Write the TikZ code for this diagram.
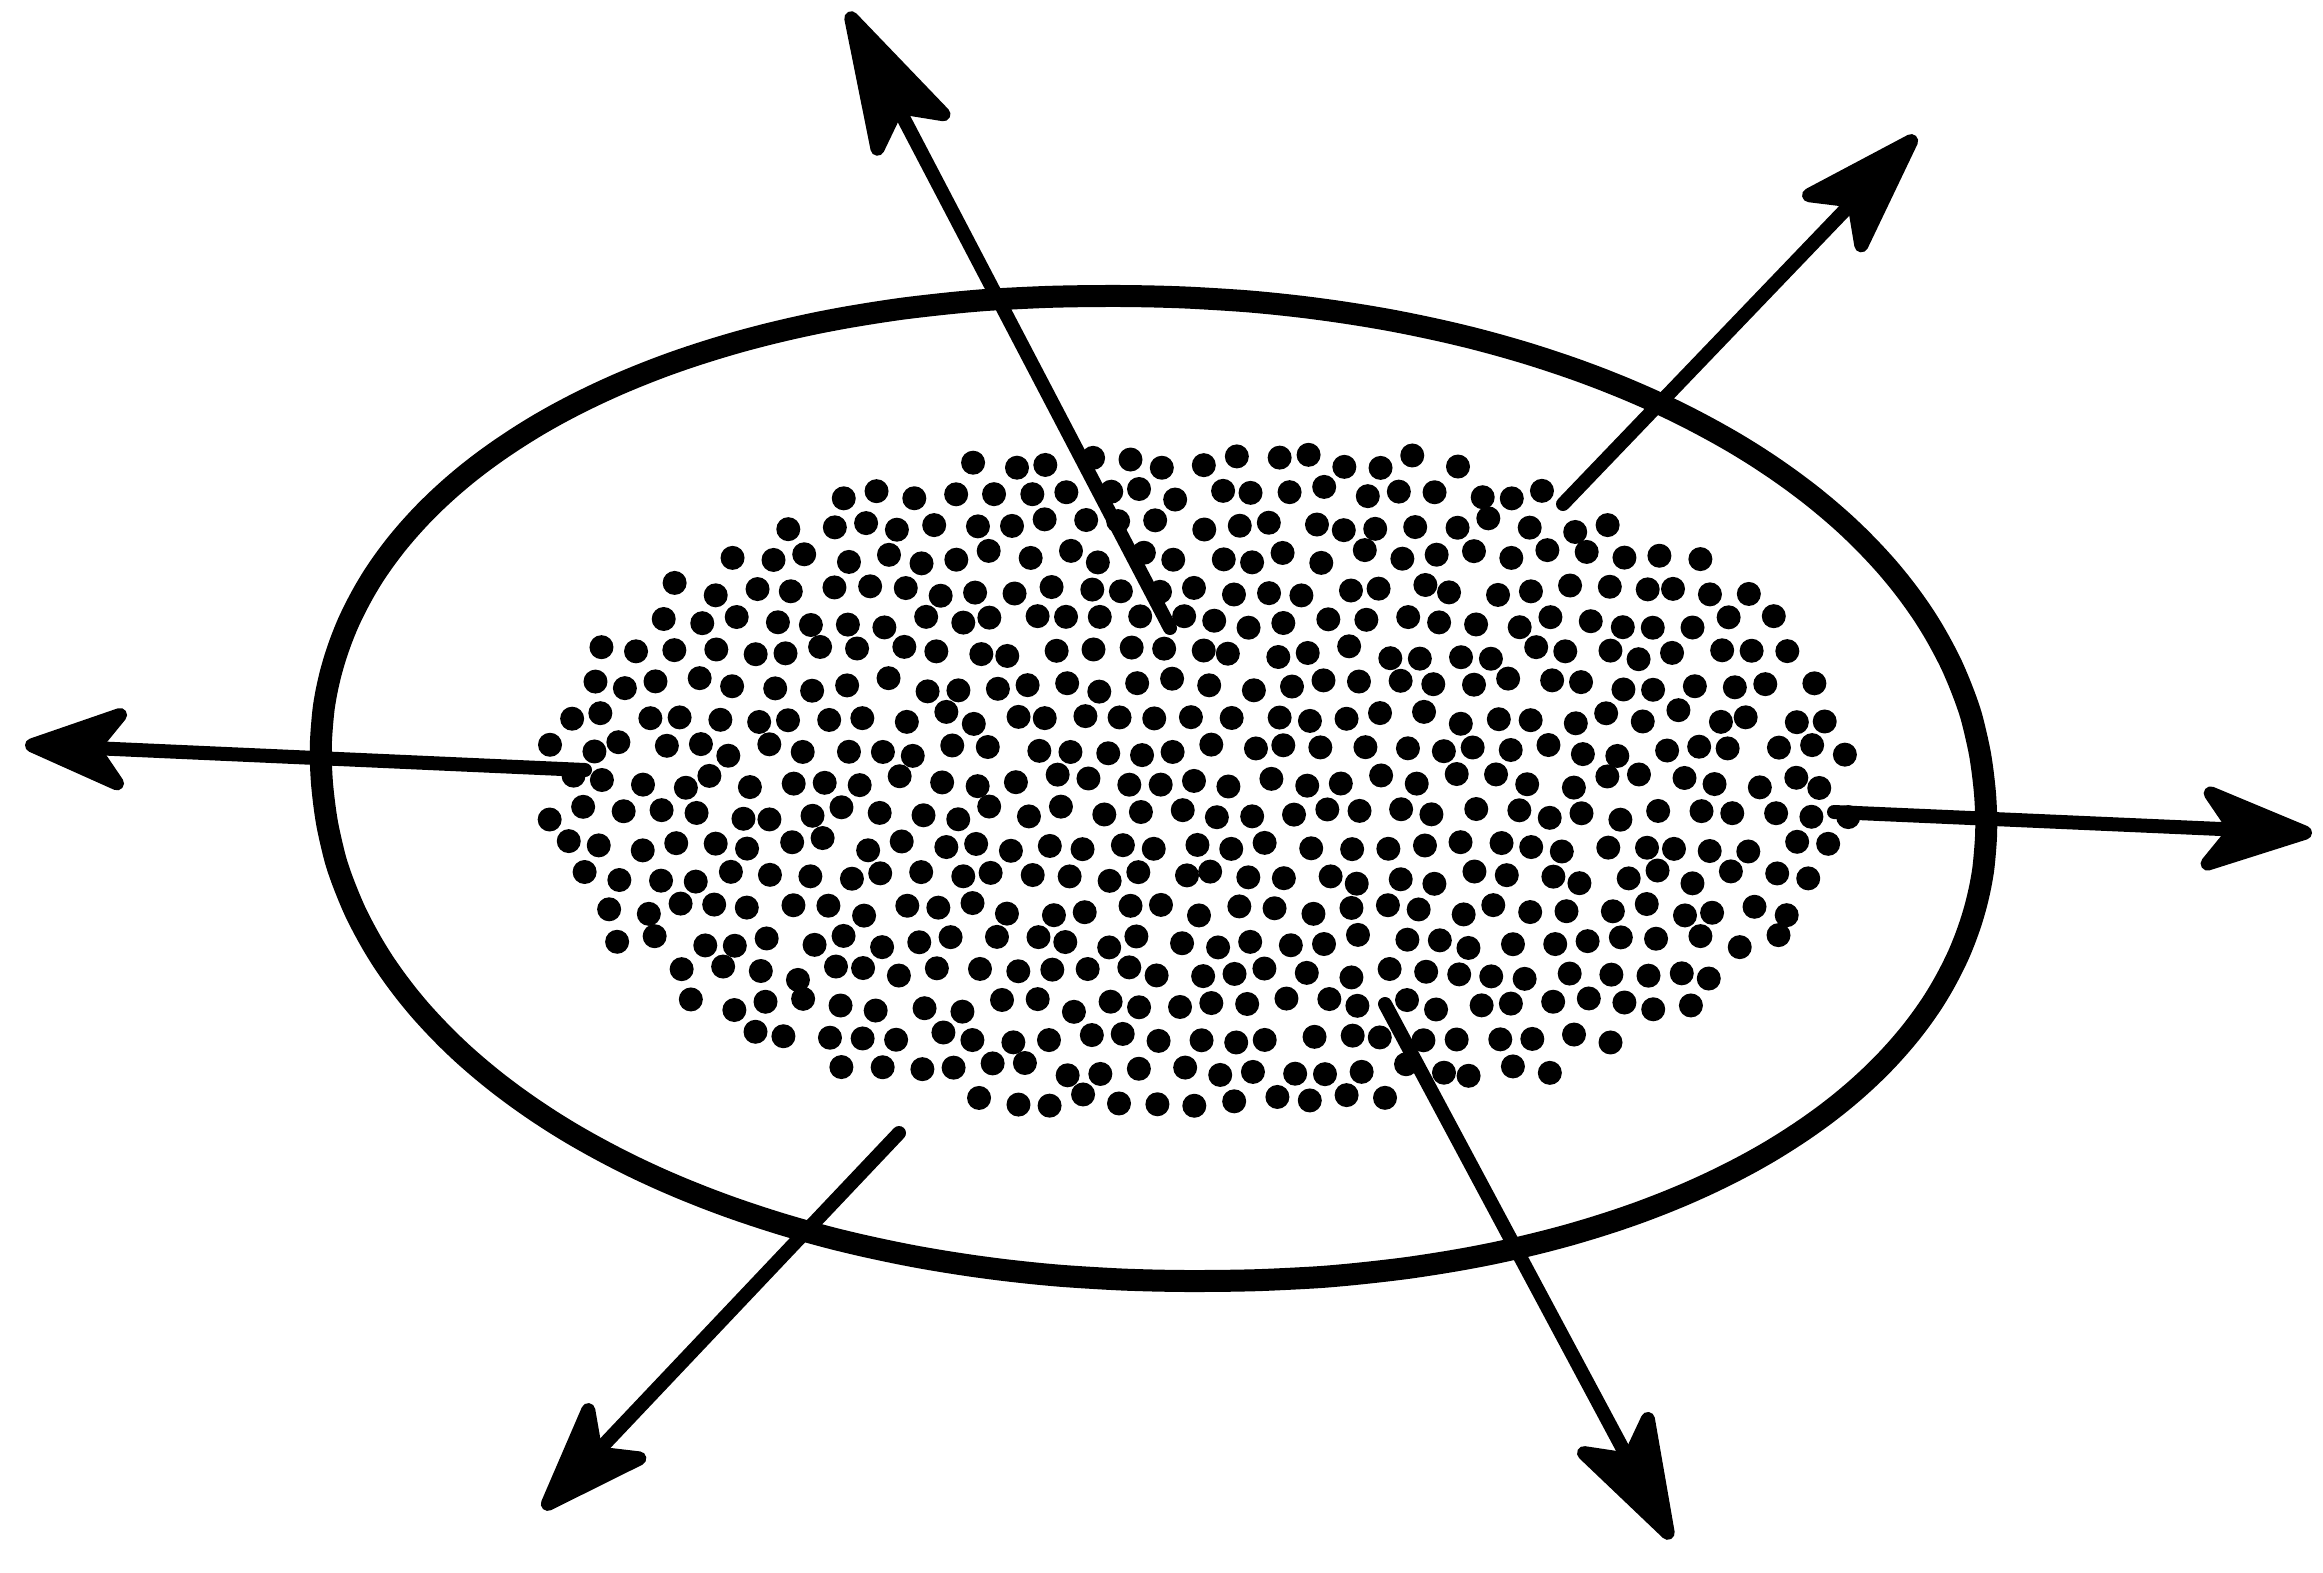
\documentclass[tikz,border=0pt]{standalone}
\usetikzlibrary{arrows.meta}
\tikzset{
  rim/.style={line width=22pt, line join=round},
  ray/.style={line width=14pt, line cap=round, -{Stealth[length=#1, width=98pt, inset=36pt, round]}},
  speck/.style={fill=black}
}
\begin{document}
\begin{tikzpicture}[x=1pt, y=-1pt,
  declare function={spw(\u)=sign(\u)*abs(\u)^0.95;}]
\useasboundingbox (0,0) rectangle (2323,1573);
\fill[white] (0,0) rectangle (2323,1573);
% outer ellipse (slightly squarish, sheared)
\draw[rim] plot[smooth cycle, domain=0.5:358.5, samples=180, variable=\t]
  ({1153.5 + 831*spw(cos(\t)) + 45*spw(sin(\t))}, {788.5 + 492.5*spw(sin(\t))});
% dots
\pgfmathsetseed{42}
\foreach \i in {-19,...,19}{
 \foreach \j in {-11,...,11}{
  \pgfmathsetmacro\px{\i*37+mod(abs(\j),2)*18.5+8*rand}
  \pgfmathsetmacro\py{\j*32+7*rand}
  \pgfmathtruncatemacro\inside{((\px/655)^2+(\py/348)^2<1)?1:0}
  \ifnum\inside=1 \fill[speck] (1198+\px,781+\py) circle[radius=12]; \fi
 }}
% ray ends
\coordinate (s1) at (1170,628); \coordinate (t1) at (848,12);
\coordinate (s2) at (1563,504); \coordinate (t2) at (1916,136);
\coordinate (s3) at (585,770);  \coordinate (t3) at (25,745);
\coordinate (s4) at (1834,812); \coordinate (t4) at (2312,833);
\coordinate (s5) at (899,1133); \coordinate (t5) at (543,1509);
\coordinate (s6) at (1385,1004); \coordinate (t6) at (1671,1539);
\foreach \k/\L in {1/170pt,2/150pt,3/125pt,4/135pt,5/135pt,6/150pt}{
  \draw[ray=\L] (s\k) -- (t\k); }
\end{tikzpicture}
\end{document}
